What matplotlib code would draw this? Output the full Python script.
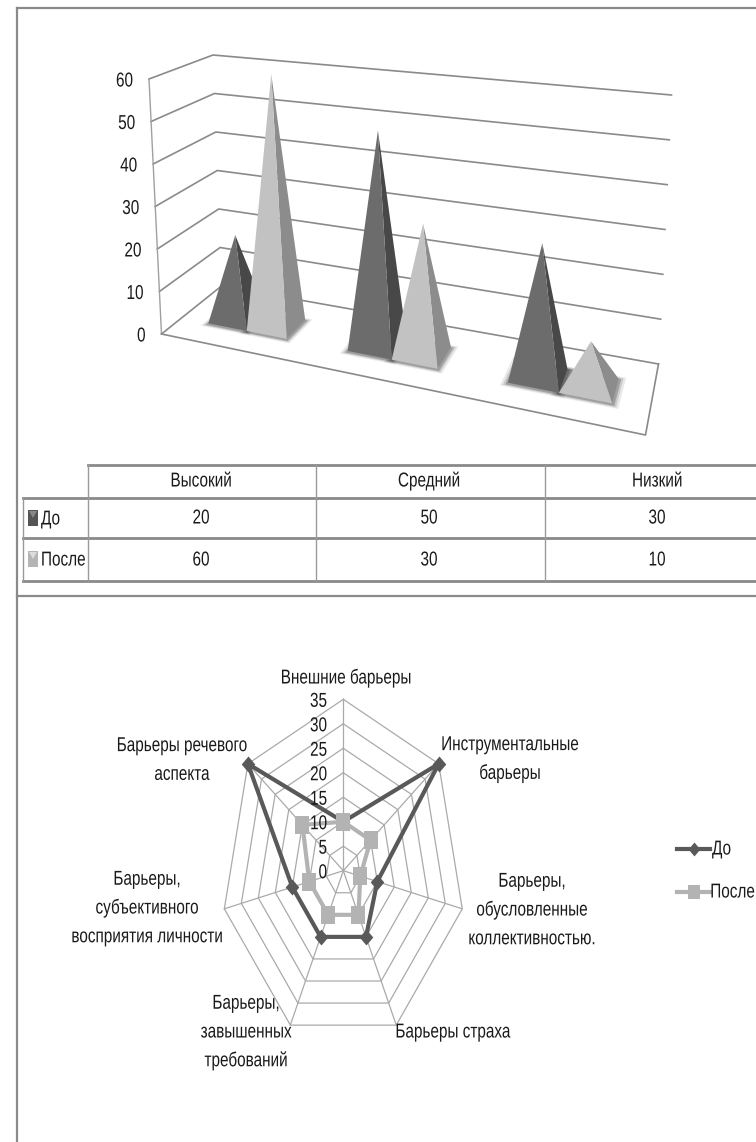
import numpy as np
import matplotlib
matplotlib.use('Agg')
import matplotlib.pyplot as plt
from matplotlib.patches import Polygon, Rectangle
from matplotlib.patheffects import AbstractPathEffect
from matplotlib.transforms import Affine2D

plt.rcParams['font.family'] = ['Liberation Sans', 'DejaVu Sans']

# pyramid chart data
levels = ['Высокий', 'Средний', 'Низкий']
before = [20, 50, 30]
after = [60, 30, 10]
series_names = ['До', 'После']
wall_ticks = [0, 10, 20, 30, 40, 50, 60]

# radar chart data
radar_labels = ['Внешние барьеры', 'Инструментальные\nбарьеры', 'Барьеры,\nобусловленные\nколлективностью.',
                'Барьеры страха', 'Барьеры,\nзавышенных\nтребований', 'Барьеры,\nсубъективного\nвосприятия личности',
                'Барьеры речевого\nаспекта']
radar_before = [10, 35, 10, 15, 15, 15, 35]
radar_after = [10, 10, 5, 10, 10, 10, 15]
radar_ticks = [0, 5, 10, 15, 20, 25, 30, 35]

LINE = '#8a8a8a'
TXT = '#1a1a1a'
FONT = 14.5
SQUEEZE = 0.76

fig = plt.figure(figsize=(7.56, 11.42), dpi=100)
ax = fig.add_axes([0, 0, 1, 1])
ax.set_xlim(0, 756)
ax.set_ylim(1142, 0)
ax.axis('off')


class Narrow(AbstractPathEffect):
    """squeezes the glyphs horizontally around the text anchor, the scan looks condensed"""

    def __init__(self, anchor_x, factor):
        super().__init__()
        self.anchor_x = anchor_x
        self.factor = factor

    def draw_path(self, renderer, gc, tpath, affine, rgbFace=None):
        squeeze = Affine2D().translate(-self.anchor_x, 0).scale(self.factor, 1).translate(self.anchor_x, 0)
        renderer.draw_path(gc, tpath, affine + squeeze, rgbFace)


def label(x, y, s, ha='center', size=FONT, zorder=6, spacing=1.32):
    t = ax.text(x, y, s, ha=ha, va='center', fontsize=size, color=TXT, zorder=zorder, linespacing=spacing)
    t.set_path_effects([Narrow(x, SQUEEZE)])
    return t


# page frame
ax.plot([17, 17], [8, 1142], color=LINE, lw=1.6)
ax.plot([17, 756], [8, 8], color=LINE, lw=1.6)
ax.plot([17, 756], [596, 596], color=LINE, lw=1.6)

# floor of the 3d box, as a homography from the unit square
floor_src = np.array([[0, 0], [1, 0], [1, 1], [0, 1]], dtype=float)
floor_dst = np.array([[161.5, 334], [645.5, 435], [658.5, 364], [221.5, 286]])
A, b = [], []
for (u, w), (x, y) in zip(floor_src, floor_dst):
    A.append([u, w, 1, 0, 0, 0, -u * x, -w * x])
    A.append([0, 0, 0, u, w, 1, -u * y, -w * y])
    b += [x, y]
H = np.append(np.linalg.solve(np.array(A), np.array(b)), 1).reshape(3, 3)


def floor(u, w):
    p = H @ np.array([u, w, 1.0])
    return p[:2] / p[2]


def wall_y(corner0, corner60, v):
    return np.array(corner0) + (np.array(corner60) - np.array(corner0)) * v / 60


fl0, fl60 = (161.5, 334), (149, 79)
bl0, bl60 = (221.5, 286), (213, 55)
br0, br60 = (658.5, 364), (671.5, 95)

for v in wall_ticks:
    p1, p2, p3 = wall_y(fl0, fl60, v), wall_y(bl0, bl60, v), wall_y(br0, br60, v)
    ax.plot([p1[0], p2[0], p3[0]], [p1[1], p2[1], p3[1]], color=LINE, lw=1.2, zorder=1)
    label(p1[0] - 16, p1[1] + 2, str(v), ha='right')
ax.plot([fl0[0], fl60[0]], [fl0[1], fl60[1]], color='#a0a0a0', lw=1, zorder=1)
ax.plot([161.5, 645.5, 658.5], [334, 435, 364], color=LINE, lw=1.2, zorder=1)

group_start = 0.07
group_step = 0.335
bar_width = 0.097
w0, w1 = 0.31, 0.67
faces = [('#6c6c6c', '#484848'), ('#c2c2c2', '#8c8c8c')]


def pyramid(u0, u1, value, colors):
    corners = [floor(u0, w0), floor(u1, w0), floor(u1, w1), floor(u0, w1)]
    centre = np.mean(corners, axis=0)
    u_mid = (u0 + u1) / 2
    unit = 4.1 + 0.42 * u_mid
    apex = centre + np.array([(-10 + 23 * u_mid) * value / 60, -unit * value])
    for grow, alpha in [(.26, .10), (.17, .16), (.09, .28)]:
        poly = [centre + (c - centre) * (1 + grow) + np.array([0, 1]) for c in corners]
        ax.add_patch(Polygon(poly, closed=True, fc='#303030', ec='none', alpha=alpha, zorder=2))
    ax.add_patch(Polygon([corners[1], corners[2], apex], closed=True, fc=colors[1], ec='none', zorder=3))
    ax.add_patch(Polygon([corners[0], corners[1], apex], closed=True, fc=colors[0], ec='none', zorder=3))


for i in range(len(levels)):
    u = group_start + i * group_step
    pyramid(u, u + bar_width, before[i], faces[0])
    pyramid(u + bar_width, u + 2 * bar_width, after[i], faces[1])

# data table below the pyramids
col_x = [88, 316, 545, 756]
row_y = [465, 498, 538, 581]
ax.plot([88, 756], [row_y[0]] * 2, color=LINE, lw=2)
for y in row_y[1:]:
    ax.plot([23, 756], [y, y], color=LINE, lw=2)
ax.plot([23, 23], [row_y[1], row_y[3]], color='#9a9a9a', lw=1)
for x in col_x[:3]:
    ax.plot([x, x], [row_y[0], row_y[3]], color='#9a9a9a', lw=1)
col_mid = [201, 429, 657]
for i in range(3):
    label(col_mid[i], 481, levels[i])
    label(col_mid[i], 518, str(before[i]))
    label(col_mid[i], 560, str(after[i]))
for name, y, col, top in zip(series_names, [518, 559], ['#555555', '#b4b4b4'], ['#888888', '#dcdcdc']):
    ax.add_patch(Rectangle((28, y - 8), 10, 16, fc=col, ec='none'))
    ax.add_patch(Polygon([(29, y - 7), (37, y - 7), (33, y)], closed=True, fc=top, ec='none'))
    label(41, y + 1, name, ha='left')

# radar chart, the picture is squeezed horizontally
cx, cy, r35, squeeze = 343.3, 870.7, 171.4, 0.712
n = len(radar_labels)
angles = np.arange(n) * 2 * np.pi / n


def radar_xy(values):
    r = np.array(values) / 35 * r35
    return cx + r * np.sin(angles) * squeeze, cy - r * np.cos(angles)


for t in radar_ticks[1:]:
    xs, ys = radar_xy([t] * n)
    ax.plot(np.append(xs, xs[0]), np.append(ys, ys[0]), color='#aaaaaa', lw=0.9, zorder=1)
for xe, ye in zip(*radar_xy([35] * n)):
    ax.plot([cx, xe], [cy, ye], color='#aaaaaa', lw=0.9, zorder=1)
for t in radar_ticks:
    label(327, cy - t / 35 * r35 + 2, str(t), ha='right', zorder=5)

diamond = [(0, 1), (.85, 0), (0, -1), (-.85, 0), (0, 1)]
tall_square = [(-.8, -1), (.8, -1), (.8, 1), (-.8, 1), (-.8, -1)]
for vals, col, mark, ms in [(radar_before, '#595959', diamond, 11.5), (radar_after, '#b3b3b3', tall_square, 13)]:
    xs, ys = radar_xy(vals)
    ax.plot(np.append(xs, xs[0]), np.append(ys, ys[0]), color=col, lw=3, marker=mark, ms=ms,
            mec=col, mfc=col, mew=0, zorder=4)

label_pos = [(346, 678), (510, 759), (532, 910), (453, 1032), (246, 1032), (147, 908), (182, 760)]
for lab, (x, y) in zip(radar_labels, label_pos):
    label(x, y, lab, spacing=1.65)

# legend
for name, y, col, mark, ms in [(series_names[0], 849, '#595959', diamond, 10), (series_names[1], 892, '#b3b3b3', tall_square, 10)]:
    ax.plot([677, 710], [y, y], color=col, lw=3)
    ax.plot([693.5], [y], color=col, marker=mark, ms=ms, mew=0)
label(755, 892, series_names[1], ha='right')
label(712, 849, series_names[0], ha='left')

fig.savefig('out.png', dpi=100)
